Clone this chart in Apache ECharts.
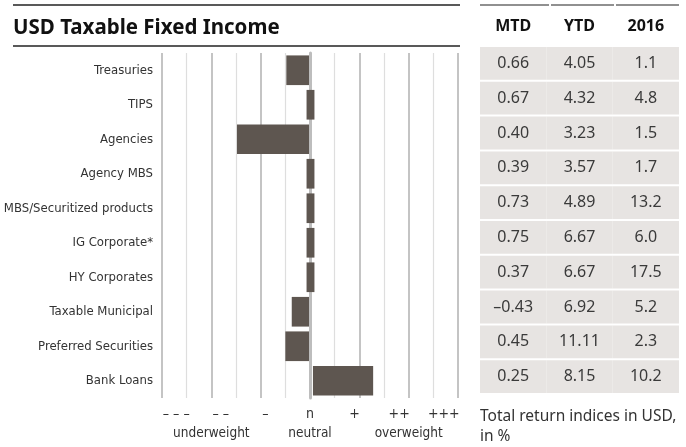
<!DOCTYPE html>
<html>
<head>
<meta charset="utf-8">
<script src="https://cdn.jsdelivr.net/npm/echarts@6/dist/echarts.min.js"></script>
<style>
html,body{margin:0;padding:0;background:#fff;}
#chart{width:686px;height:447px;}
</style>
</head>
<body>
<div id="chart"></div>
<script>
// ---- data ----
const categories = ['Treasuries', 'TIPS', 'Agencies', 'Agency MBS', 'MBS/Securitized products',
  'IG Corporate*', 'HY Corporates', 'Taxable Municipal', 'Preferred Securities', 'Bank Loans'];
// positioning bar extent on the tilt scale (-3 = "– – –", 0 = neutral, +3 = "+++")
const tiltFrom = [-0.48, -0.07, -1.48, -0.07, -0.07, -0.07, -0.07, -0.37, -0.5, 0.06];
const tiltTo   = [-0.02,  0.09, -0.02,  0.09,  0.09,  0.09,  0.09, -0.02, -0.02, 1.28];
const tickLabels = ['– – –', '– –', '–', 'n', '+', '++', '+++'];
const tickValues = [-3, -2, -1, 0, 1, 2, 3];
const zoneLabels = ['underweight', 'neutral', 'overweight'];
const zoneValues = [-2, 0, 2];
const tableColumns = ['MTD', 'YTD', '2016'];
const mtd   = [0.66, 0.67, 0.40, 0.39, 0.73, 0.75, 0.37, -0.43, 0.45, 0.25];
const ytd   = [4.05, 4.32, 3.23, 3.57, 4.89, 6.67, 6.67, 6.92, 11.11, 8.15];
const y2016 = [1.1, 4.8, 1.5, 1.7, 13.2, 6.0, 17.5, 5.2, 2.3, 10.2];

const NARROW = '"DejaVu Sans Condensed", "Liberation Sans Narrow", sans-serif';
const SANS = '"Noto Sans", "Open Sans", sans-serif';
const BAR = '#5e5650';

function fmt(v, d) { return v.toFixed(d).replace('-', '–'); }
const tableText = [mtd.map(v => fmt(v, 2)), ytd.map(v => fmt(v, 2)), y2016.map(v => fmt(v, 1))];

const barData = categories.map((c, i) => [tiltFrom[i], tiltTo[i], i]);
const tableData = [];
for (let col = 0; col < 3; col++) for (let r = 0; r < categories.length; r++) tableData.push([col, r]);

const chart = echarts.init(document.getElementById('chart'));
chart.setOption({
  animation: false,
  backgroundColor: '#fff',
  title: [
    { text: 'USD Taxable Fixed Income', left: 8, top: 13,
      textStyle: { fontFamily: SANS, fontSize: 20.5, fontWeight: 'bold', color: '#111' } },
    { text: 'Total return indices in USD,\nin %', left: 475, top: 402,
      textStyle: { fontFamily: SANS, fontSize: 15.5, fontWeight: 'normal', color: '#333', lineHeight: 20 } }
  ],
  graphic: [
    { type: 'line', shape: { x1: 13, y1: 5, x2: 460, y2: 5 }, style: { stroke: '#222', lineWidth: 1.5 } },
    { type: 'line', shape: { x1: 13, y1: 46, x2: 460, y2: 46 }, style: { stroke: '#222', lineWidth: 1.5 } },
    { type: 'line', shape: { x1: 480, y1: 5, x2: 549, y2: 5 }, style: { stroke: '#222', lineWidth: 1.2 } },
    { type: 'line', shape: { x1: 551, y1: 5, x2: 614, y2: 5 }, style: { stroke: '#222', lineWidth: 1.2 } },
    { type: 'line', shape: { x1: 616, y1: 5, x2: 679, y2: 5 }, style: { stroke: '#222', lineWidth: 1.2 } }
  ],
  grid: [
    { left: 162, right: 228, top: 53, bottom: 49, containLabel: false, outerBoundsMode: 'none' },
    { left: 480, right: 7, top: 46, bottom: 53, containLabel: false, outerBoundsMode: 'none' }
  ],
  xAxis: [
    { // major lines + zone labels
      type: 'value', gridIndex: 0, min: -3, max: 3, interval: 1, position: 'bottom',
      axisLine: { show: false }, axisTick: { show: false },
      splitLine: { show: true, lineStyle: { color: '#c4c4c4', width: 2 } },
      axisLabel: { show: true, customValues: zoneValues, margin: 28,
        formatter: v => zoneLabels[zoneValues.indexOf(v)],
        fontFamily: NARROW, fontSize: 13.5, color: '#333' }
    },
    { // minor lines
      type: 'value', gridIndex: 0, min: -3, max: 3, interval: 0.5, position: 'top',
      axisLine: { show: false }, axisTick: { show: false }, axisLabel: { show: false },
      splitLine: { show: true, lineStyle: { color: ['transparent', '#dedede'], width: 1.2 } }
    },
    { // tick symbol labels
      type: 'value', gridIndex: 0, min: -3.32, max: 3.32, position: 'bottom',
      axisLine: { show: false }, axisTick: { show: false }, splitLine: { show: false },
      axisLabel: { show: true, customValues: tickValues, margin: 9,
        formatter: v => tickLabels[tickValues.indexOf(v)],
        fontFamily: NARROW, fontSize: 14, color: '#333' }
    },
    { // table columns
      type: 'category', gridIndex: 1, data: tableColumns, position: 'top',
      axisLine: { show: false }, axisTick: { show: false }, splitLine: { show: false },
      axisLabel: { margin: 12, fontFamily: SANS, fontSize: 16, fontWeight: 'bold', color: '#111' }
    }
  ],
  yAxis: [
    {
      type: 'category', gridIndex: 0, data: categories, inverse: true,
      axisLine: { show: true, onZero: true, lineStyle: { color: '#bdbdbd', width: 3 } },
      axisTick: { show: false },
      axisLabel: { margin: 9, fontFamily: NARROW, fontSize: 13, color: '#333' }
    },
    {
      type: 'category', gridIndex: 1, data: categories, inverse: true, show: false
    }
  ],
  series: [
    {
      type: 'custom', xAxisIndex: 0, yAxisIndex: 0, data: barData,
      encode: { x: [0, 1], y: 2 },
      renderItem: function (params, api) {
        const a = api.coord([api.value(0), api.value(2)]);
        const b = api.coord([api.value(1), api.value(2)]);
        const h = api.size([0, 1])[1] * 0.86;
        return { type: 'rect', shape: { x: a[0], y: a[1] - h / 2, width: b[0] - a[0], height: h },
          style: { fill: BAR } };
      }
    },
    {
      type: 'custom', xAxisIndex: 3, yAxisIndex: 1, data: tableData,
      encode: { x: 0, y: 1 },
      renderItem: function (params, api) {
        const col = api.value(0), row = api.value(1);
        const c = api.coord([col, row]);
        const s = api.size([1, 1]);
        return { type: 'group', children: [
          { type: 'rect', shape: { x: c[0] - s[0] / 2, y: c[1] - s[1] / 2 + 1, width: s[0], height: s[1] - 2 },
            style: { fill: '#e7e4e2' } },
          { type: 'text', style: { text: tableText[col][row], x: c[0], y: c[1],
            align: 'center', verticalAlign: 'middle', fill: '#3a3a3a',
            font: '16px "Noto Sans", "Open Sans", sans-serif' } }
        ] };
      }
    }
  ]
});
</script>
</body>
</html>
